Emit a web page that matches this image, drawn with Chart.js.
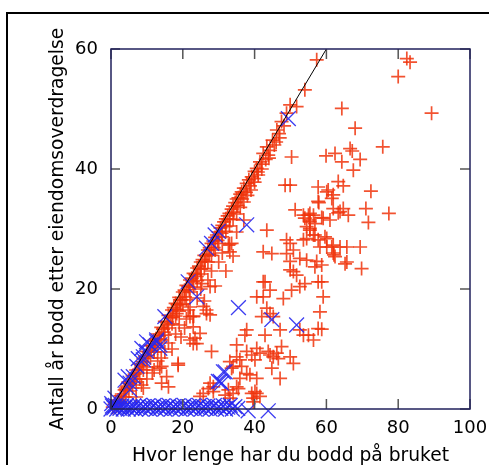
<!DOCTYPE html>
<html>
<head>
<meta charset="utf-8">
<script src="https://cdn.jsdelivr.net/npm/chart.js@4.4.1/dist/chart.umd.min.js"></script>
<style>
  html, body { margin: 0; padding: 0; background: #fff; overflow: hidden; }
  #frame { position: absolute; left: 6px; top: 12px; width: 600px; height: 600px; border: 2px solid #000; }
  #wrap { position: absolute; left: 0; top: 0; width: 489px; height: 465px; }
</style>
</head>
<body>
<div id="frame"></div>
<div id="wrap"><canvas id="scatterChart" width="489" height="465"></canvas></div>
<script>
const xTitle = 'Hvor lenge har du bodd på bruket';
const yTitle = 'Antall år bodd etter eiendomsoverdragelse';
const xTicks = [0, 20, 40, 60, 80, 100];
const yTicks = [0, 20, 40, 60];

// reference line y = x
const refLine = [[0, 0], [60, 60]];

// red "+" points, [years on farm, years after transfer]
const redPts = [
  // on the diagonal
  [0.5,0.3],[1,0.8],[1.5,0.5],[2,1.5],[2.3,1],[3,2.5],[3.5,2],[3.8,3.2],[4.5,3.8],[4.8,4.5],
  [5.5,4.6],[6,5.5],[6.3,5],[7,6.5],[7.5,6],[8,7.5],[8.4,7.2],[9,8.4],[9.5,8.8],[10,9.6],
  [10.5,9.5],[11,10.6],[11.5,10.5],[12,11.4],[12.5,11.7],[13,12.5],[13.4,12.2],[14,13.6],[14.5,13.3],[15,14.6],
  [15.6,14.5],[16,15.6],[16.5,15.2],[17,16.5],[17.5,16.9],[18,17.6],[18.5,17.4],[19,18.6],[19.5,18.2],[20,19.5],
  [20.5,19.8],[21,20.6],[21.5,20.4],[22,21.5],[22.5,21.8],[23,22.6],[23.5,22.4],[24,23.5],[24.5,23.8],[25,24.5],
  [25.5,24.9],[26,25.6],[26.5,25.5],[27,26.5],[27.5,26.9],[28,27.6],[28.5,28],[29,28.6],[29.5,29],[30,29.5],
  [30.5,30.2],[31,30.6],[31.5,31.2],[32,31.7],[32.5,32.2],[33,32.6],[33.6,33.3],[34,33.8],[34.6,34.4],[35,35],
  [35.5,35.2],[36,35.8],[36.4,36.2],[37,36.8],[37.8,37.6],[38.4,38.2],[39.2,38.7],[40,39.6],[40.6,40.1],[41.5,41.2],
  [42.4,42.6],[43.4,43.7],[43.8,42.3],[45,44.8],[46.2,46.5],[47.5,47.9],[48.9,49.3],[49.9,50.7],[51.7,50.4],[54,53.2],
  [57.3,58.2],
  // just right of the diagonal
  [1.3,1.2],[2.6,2.2],[4.1,3.5],[5.2,4.2],[6.6,5.8],[7.8,6.6],[8.8,7.9],[10.3,8.9],[11.2,9.8],[12.4,10.8],
  [13.6,11.6],[14.7,12.8],[15.8,14],[17.2,15.3],[18.3,16.6],[19.4,17.4],[20.6,18.7],[21.8,19.9],[22.8,21.2],[23.9,22.1],
  [25.1,23.3],[26.2,24.6],[27.4,25.8],[28.6,26.9],[29.7,28.1],[30.8,29.3],[31.9,30.4],[33.1,31.6],[34.2,32.8],[35.3,33.9],
  [36.5,35],[37.6,36.1],[38.7,37.2],[39.8,38.4],[40.9,39.5],[42,40.8],[43.1,41.6],[44.3,43.1],[45.5,44],[46.8,45.9],
  [48.2,47.2],
  [3,1],[4,2],[5,3],[6,3.5],[7,4.5],[8,5],[9,6.5],[10,7],[11,8.5],[12,9.5],
  [13,10.2],[14,11.5],[15,12.3],[16,13.5],[17,14.2],[18,15.5],[19,16.3],[20,17.5],[21,18.2],[22,19.5],
  [23,20.3],[24,21.4],[25,22.5],[26,23.4],[27,24.5],[28,25.6],[29,26.5],[30,27.6],[31,28.7],[32,29.6],
  [33,30.5],[34,31.6],[35,32.5],[36,33.6],[37,34.5],[38,35.6],[39,36.5],[40,37.8],[41,39],[42,40],
  [44,41.8],[46,44.5],[47,45.2],
  [7,2],[9,3.5],[10,5],[12,6.5],[13,8],[15,9.5],[16,11],[18,12.5],[19,14],[21,15],
  [22,17],[24,18.5],[25,20],[27,21.5],[28,23],[30,24.5],[31,26],[33,27.5],[35,29.5],[37,31.5],
  [8.5,4],[11.5,6],[14,8.5],[17,10],[19.5,12],[20.5,13.5],[23,15.5],[26,18],[29,20.5],[32,23],
  [34,25.5],
  // scattered below the diagonal
  [50.3,42],[48.5,37.3],[49.9,37.3],[57.7,37],[60.1,36.2],[61.9,35.7],[51.3,33.2],[53.6,32.3],[55.4,32.6],[57.7,34.6],
  [61.9,33.4],[82.4,58.4],[83.3,57.8],[80,55.4],[89.3,49.3],[64.3,50.1],[68,46.8],[75.7,43.7],[66.6,43.4],[67.2,43],
  [62.4,42.6],[59.9,42.2],[64.3,41.2],[69.4,41.6],[67.5,39.8],[63.3,37.9],[64.7,37.2],[60.5,36.5],[72.4,36.3],[61.5,35.1],
  [57.9,34.4],[71,33.4],[64.7,33.4],[63.8,32.9],[77.4,32.6],[71.7,31.1],[61,31.5],[58.7,31.9],[55,32.3],[55.4,31.5],
  [54,31.8],[54.5,30.4],[55.4,29.8],[56.8,29],[59.6,28.7],[63.3,32.7],[59.1,31.8],[60.1,28.4],[60.1,27],[61.5,27],
  [63.8,27],[65.7,27],[69.4,27],[62.1,25.7],[65.2,24.2],[69.8,23.4],[59.1,18.7],[58.2,16.2],[58.7,24],[58.7,21.2],
  [58.7,13.3],[56.4,32.3],[56.8,30.9],[66.1,32.3],[43.4,29.8],[48.9,28.2],[49.9,27.6],[53.6,28.2],[54.5,28.4],[56.4,29],
  [57.7,28.2],[58.2,27],[61.9,27.3],[62.4,25.4],[55.4,31.2],[55.4,30.1],[42.4,26.2],[44.8,25.9],[48.9,25.9],[50.8,26.5],
  [49.9,24.6],[52.6,25.1],[54.5,24.8],[56.8,23.7],[57.3,24.6],[49.9,23.2],[50.8,22.9],[51.7,22.3],[57.7,21.2],[42.4,21.2],
  [54,20.9],[52.6,20.4],[50.3,19.8],[42.4,18.7],[40.6,18.7],[44.3,19.8],[48,18.4],[43.4,16.8],[44.3,15.9],[42,15.4],
  [45.2,15.4],[57.7,13.4],[37.8,13.2],[37.3,12.3],[42.9,12.3],[55,12.3],[56.4,11.5],[53.6,12.3],[35,10.7],[28,9.6],
  [22.9,10.9],[22,11.5],[37.8,9.6],[39.2,9],[41.5,9.3],[40.1,8.2],[46.2,9.3],[46.6,8.4],[44.3,9],[50.8,7.6],
  [44.8,6.8],[33.1,7.9],[34,7.1],[36.4,7.1],[37.8,5.9],[38.7,5.7],[40.6,5.1],[47.1,5.1],[35.5,3.4],[27.1,3.4],
  [28.5,2.9],[40.1,2.9],[39.6,1.8],[41.5,2.1],[31.8,2.3],[33.1,1.8],[24.8,2.1],[25.3,20.9],[27.6,20.4],[26.6,15.9],
  [27.6,15.7],[25.7,17.1],[33.1,26.2],[32.7,27.3],[33.6,27.6],[47.1,13.2],[47.5,10.4],[52.6,13.2],[49.9,8.7],[45.2,8.7],
  [43.8,9.6],[40.6,10.1],[35,8.7],[35.9,8.2],[33.6,6.8],[35.9,5.1],[32.7,3.2],[34,2.6],[35,3.7],[27.6,4.3],
  [28.5,3.7],[25.7,2.6],[14.1,4.3],[16,3.7],[18.7,7.6],[14.1,7.1],[23.9,10.9],[23.4,11.8],[24.8,12.6],[22.9,13.7],
  [22.9,15.4],[22,15.4],[26.6,16.5],[18.3,15.9],[19.2,18.2],[21.5,16.5],[13.6,6.8],[18.7,7.3],[15.5,5.4],[39.2,2.6],
  [40.6,2.6],[39.6,1.2],[42.9,21.2],[65.7,24.5],[61.9,26]
];

// blue "x" points
const bluePts = [
  // no years after transfer
  [0,0],[0.4,0.5],[0.8,0.2],[1.2,0.6],[1.6,0],[2,0.4],[2.5,0.1],[3,0.5],[3.4,0],[3.9,0.3],
  [4.3,0.6],[4.8,0],[5.3,0.4],[5.8,0.1],[6.3,0.5],[6.8,0],[7.3,0.3],[7.9,0.6],[8.4,0],[9,0.4],
  [9.6,0.1],[10.2,0.5],[10.8,0],[11.4,0.3],[12,0.6],[12.6,0],[13.2,0.4],[13.8,0.1],[14.4,0.5],[15,0],
  [15.6,0.3],[16.2,0.6],[16.8,0],[17.4,0.4],[18,0.1],[18.6,0.5],[19.2,0],[19.8,0.3],[20.4,0.6],[21,0],
  [21.6,0.4],[22.2,0.1],[22.8,0.5],[23.4,0],[24,0.3],[24.6,0.6],[25.2,0],[25.8,0.4],[26.4,0.1],[27,0.5],
  [27.6,0],[28.2,0.3],[28.8,0.6],[29.4,0],[30,0.4],[30.6,0.1],[31.3,0.5],[31.9,0],[32.5,0.3],[33.2,0.6],
  [33.8,0],[34.5,0.4],[35.3,0.1],[38.2,-0.3],[43.8,-0.3],
  // along the diagonal
  [0.2,0.9],[1.1,1.8],[3.9,4.8],[4.8,5.4],[5.3,4.3],[5.3,3.2],[6.2,5.4],[7.2,7.1],[7.6,8.4],[9,8.7],
  [9,8.2],[9.9,9.6],[8.6,10.1],[9.9,11.2],[10.9,10.7],[12.7,11.2],[13.6,10.7],[12.7,11.5],[13.6,10.1],[15,15.4],
  [21.5,21.2],[26.6,26.8],[28,27.6],[29,29],[29.9,29.6],[49.4,48.4],
  // scattered
  [37.8,30.7],[23.9,18.7],[35.5,16.9],[44.8,14.9],[51.7,14],[31.3,6.2],[30.4,4.6],[29.9,4.6],[30.8,4.3],[31.8,6.2]
];

const toXY = pts => pts.map(p => ({x: p[0], y: p[1]}));

const innerTicks = {
  id: 'innerTicks',
  afterDatasetsDraw(chart) {
    const {ctx, chartArea: a, scales: {x, y}} = chart;
    ctx.save();
    ctx.strokeStyle = '#555';
    ctx.lineWidth = 1.5;
    ctx.beginPath();
    xTicks.forEach(v => {
      const px = x.getPixelForValue(v);
      ctx.moveTo(px, a.bottom); ctx.lineTo(px, a.bottom - 10);
      ctx.moveTo(px, a.top); ctx.lineTo(px, a.top + 10);
    });
    yTicks.forEach(v => {
      const py = y.getPixelForValue(v);
      ctx.moveTo(a.left, py); ctx.lineTo(a.left + 9, py);
      ctx.moveTo(a.right, py); ctx.lineTo(a.right - 10, py);
    });
    ctx.stroke();
    ctx.strokeStyle = '#20205c';
    ctx.lineWidth = 1.5;
    ctx.strokeRect(a.left, a.top, a.width, a.height);
    ctx.restore();
  }
};

const tickFont = {family: 'DejaVu Sans', size: 18};
const titleFont = {family: 'DejaVu Sans', size: 18.7, lineHeight: 1};

const ctx = document.getElementById('scatterChart').getContext('2d');
const chart = new Chart(ctx, {
  type: 'scatter',
  data: {
    datasets: [{
      data: toXY(refLine),
      showLine: true,
      borderColor: '#000',
      borderWidth: 1,
      pointRadius: 0,
      clip: false
    }, {
      data: toXY(bluePts),
      pointStyle: 'crossRot',
      pointRadius: 10.5,
      borderColor: 'rgba(40,40,240,0.9)',
      borderWidth: 1.3,
      clip: false
    }, {
      data: toXY(redPts),
      pointStyle: 'cross',
      pointRadius: 7,
      borderColor: 'rgba(240,52,12,0.85)',
      borderWidth: 1.7,
      clip: false
    }]
  },
  options: {
    responsive: false,
    animation: false,
    layout: {padding: {top: 49, right: 19, left: 0, bottom: 0}},
    plugins: {legend: {display: false}, tooltip: {enabled: false}},
    scales: {
      x: {
        min: 0, max: 100,
        afterBuildTicks: s => { s.ticks = xTicks.map(v => ({value: v})); },
        afterFit: s => { s.height = 56; },
        grid: {display: false},
        border: {display: false},
        ticks: {color: '#000', font: tickFont, padding: 1, maxRotation: 0},
        title: {display: true, text: xTitle, color: '#000', font: titleFont, padding: 0}
      },
      y: {
        min: 0, max: 60,
        afterBuildTicks: s => { s.ticks = yTicks.map(v => ({value: v})); },
        afterFit: s => { s.width = 111; },
        grid: {display: false},
        border: {display: false},
        ticks: {color: '#000', font: tickFont, padding: 5},
        title: {display: true, text: yTitle, color: '#000', font: titleFont, padding: {top: 49, bottom: 0}}
      }
    }
  },
  plugins: [innerTicks]
});
</script>
</body>
</html>
